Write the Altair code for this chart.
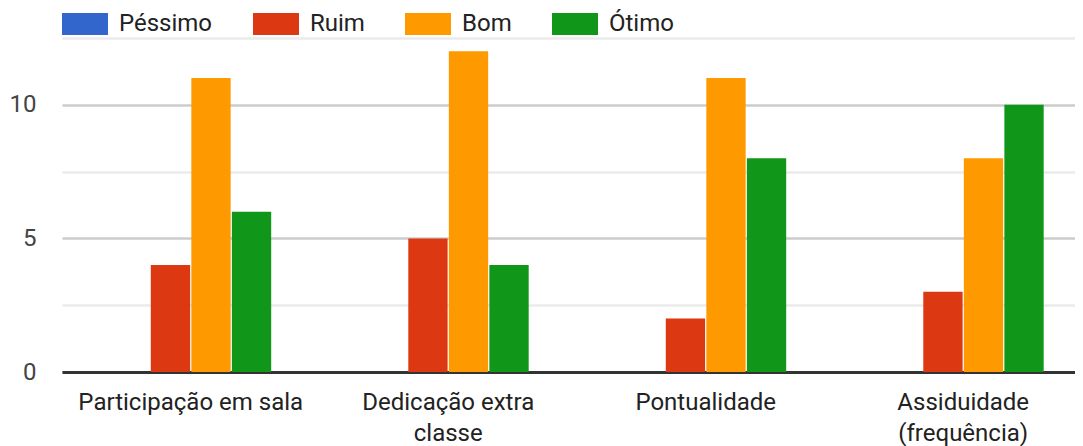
import altair as alt
import pandas as pd

categories = ["Participação em sala", "Dedicação extra classe", "Pontualidade", "Assiduidade (frequência)"]
ratings = ["Péssimo", "Ruim", "Bom", "Ótimo"]
pessimo = [0, 0, 0, 0]
ruim = [4, 5, 2, 3]
bom = [11, 12, 11, 8]
otimo = [6, 4, 8, 10]
colors = ["#3366cc", "#dc3912", "#ff9900", "#109618"]
y_ticks = [0, 2.5, 5, 7.5, 10, 12.5]

rows = []
for name, vals in zip(ratings, [pessimo, ruim, bom, otimo]):
    for c, v in zip(categories, vals):
        rows.append({"categoria": c, "avaliacao": name, "valor": v})
df = pd.DataFrame(rows)

label_expr = (
    "datum.label == 'Dedicação extra classe' ? ['Dedicação extra', 'classe'] : "
    "datum.label == 'Assiduidade (frequência)' ? ['Assiduidade', '(frequência)'] : datum.label"
)

bars = alt.Chart(df).mark_bar().encode(
    x=alt.X(
        "categoria:N", sort=categories, title=None,
        scale=alt.Scale(paddingInner=0.375, paddingOuter=0.1545, align=0.6065),
        axis=alt.Axis(labelExpr=label_expr, labelAngle=0, labelFont="Roboto", labelFontSize=24,
                      labelColor="#222222", labelPadding=18, labelLineHeight=31, ticks=False,
                      domainColor="#333333", domainWidth=3, grid=False, labelLimit=400),
    ),
    xOffset=alt.XOffset("avaliacao:N", sort=ratings,
                        scale=alt.Scale(paddingInner=0.03, paddingOuter=0)),
    y=alt.Y(
        "valor:Q", title=None,
        scale=alt.Scale(domain=[0, 12.5], nice=False),
        axis=alt.Axis(values=y_ticks,
                      labelExpr="datum.value % 5 === 0 ? '' + datum.value : ''",
                      labelFont="Roboto", labelFontSize=24, labelColor="#444444",
                      labelPadding=26, ticks=False, domain=False, grid=True, gridWidth=2.6,
                      gridColor={"condition": {"test": "datum.value % 5 === 0", "value": "#cccccc"},
                                 "value": "#ebebeb"}),
    ),
    color=alt.Color(
        "avaliacao:N", sort=ratings,
        scale=alt.Scale(domain=ratings, range=colors),
        legend=alt.Legend(title=None, orient="none", direction="horizontal", legendX=0, legendY=-37,
                          symbolType="M-1,-0.478L1,-0.478L1,0.478L-1,0.478Z", symbolSize=2116,
                          symbolStrokeWidth=0, symbolOpacity=1, labelFont="Roboto", labelFontSize=24,
                          labelColor="#222222", labelOffset=11, columnPadding=40, padding=0,
                          labelLimit=300),
    ),
)

chart = bars.properties(
    width=1013, height=334,
    autosize=alt.AutoSizeParams(type="none"),
    padding={"left": 54, "top": 30, "right": 0, "bottom": 76},
    background="white",
).configure_view(strokeWidth=0)

chart.save("out.html", embed_options={"renderer": "svg", "actions": False})
